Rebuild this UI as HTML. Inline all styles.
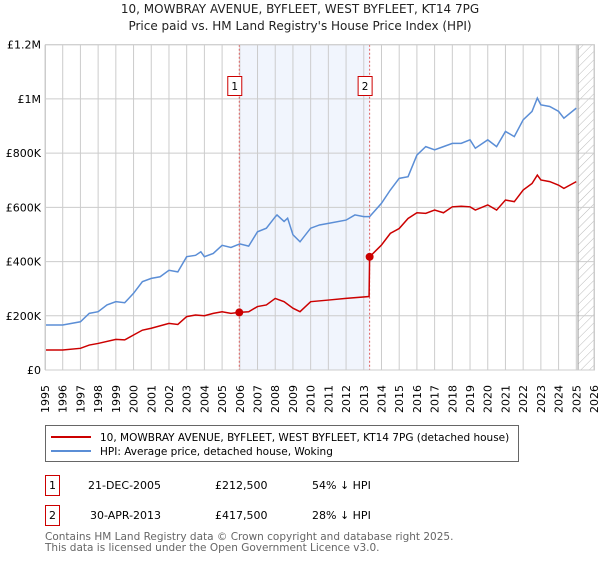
<!DOCTYPE html>
<html><head><meta charset="utf-8"><style>
body{margin:0;background:#fff;font-family:"Liberation Sans","DejaVu Sans",sans-serif;}
svg text{font-family:"DejaVu Sans","Liberation Sans",sans-serif;}
</style></head><body>
<svg id="c" width="600" height="560" viewBox="0 0 600 560" xmlns="http://www.w3.org/2000/svg">
<text x="300" y="13" text-anchor="middle" font-size="12" fill="#222">10, MOWBRAY AVENUE, BYFLEET, WEST BYFLEET, KT14 7PG</text>
<text x="300" y="30" text-anchor="middle" font-size="12" fill="#222">Price paid vs. HM Land Registry's House Price Index (HPI)</text>
<g id="grid"></g><g id="marks"></g><g id="axes"></g>
<g>
<rect x="45.5" y="425.5" width="473" height="36" fill="#fff" stroke="#666"/>
<line x1="51" y1="437" x2="91" y2="437" stroke="#cc0000" stroke-width="2"/>
<text x="100" y="441" font-size="10.5" fill="#000">10, MOWBRAY AVENUE, BYFLEET, WEST BYFLEET, KT14 7PG (detached house)</text>
<line x1="51" y1="451" x2="91" y2="451" stroke="#5b8ed6" stroke-width="2"/>
<text x="100" y="455" font-size="10.5" fill="#000">HPI: Average price, detached house, Woking</text>
</g>
<g font-size="11" fill="#000">
<rect x="45.5" y="475.5" width="14" height="20" fill="none" stroke="#cc0000"/>
<text x="52.5" y="489" text-anchor="middle">1</text>
<text x="88" y="489">21-DEC-2005</text>
<text x="215" y="489">£212,500</text>
<text x="312" y="489">54% ↓ HPI</text>
<rect x="45.5" y="505.5" width="14" height="20" fill="none" stroke="#cc0000"/>
<text x="52.5" y="519" text-anchor="middle">2</text>
<text x="90" y="519">30-APR-2013</text>
<text x="215" y="519">£417,500</text>
<text x="312" y="519">28% ↓ HPI</text>
</g>
<text x="45" y="540" font-size="10.5" fill="#666">Contains HM Land Registry data © Crown copyright and database right 2025.</text>
<text x="45" y="551" font-size="10.5" fill="#666">This data is licensed under the Open Government Licence v3.0.</text>
</svg>
<script>
const years=[1995,1996,1997,1998,1999,2000,2001,2002,2003,2004,2005,2006,2007,2008,2009,2010,2011,2012,2013,2014,2015,2016,2017,2018,2019,2020,2021,2022,2023,2024,2025,2026];
const yTicks=[0,200000,400000,600000,800000,1000000,1200000];
const yTickLabels=["£0","£200K","£400K","£600K","£800K","£1M","£1.2M"];
const hpiT=[1995,1996,1997,1997.5,1998,1998.5,1999,1999.5,2000,2000.5,2001,2001.5,2002,2002.5,2003,2003.5,2003.8,2004,2004.5,2005,2005.5,2006,2006.5,2007,2007.5,2008,2008.1,2008.5,2008.7,2009,2009.4,2010,2010.5,2011,2012,2012.5,2013,2013.33,2014,2014.5,2015,2015.5,2016,2016.5,2017,2017.5,2018,2018.5,2019,2019.3,2020,2020.5,2021,2021.5,2022,2022.5,2022.8,2023,2023.5,2024,2024.3,2025];
const hpiV=[166,166,178,209,215,240,252,248,283,326,338,344,368,362,418,423,436,418,430,460,452,465,457,510,523,565,572,548,560,499,473,523,535,541,553,572,566,566,615,664,707,713,793,824,812,824,836,836,849,818,849,824,880,861,923,954,1003,978,972,954,929,966];
const redT=[1995,1996,1997,1997.5,1998,1999,1999.5,2000,2000.5,2001,2002,2002.5,2003,2003.5,2004,2004.5,2005,2005.5,2005.97,2006.5,2007,2007.5,2008,2008.5,2009,2009.4,2010,2011,2012,2013.3,2013.33,2014,2014.5,2015,2015.5,2016,2016.5,2017,2017.5,2018,2018.5,2019,2019.3,2020,2020.5,2021,2021.5,2022,2022.5,2022.8,2023,2023.5,2024,2024.3,2025];
const redV=[74,74,80,92,98,113,111,129,147,154,172,168,197,203,200,209,215,209,212.5,215,234,240,264,252,228,215,252,258,264,271,417.5,461,504,522,559,580,578,590,580,602,604,602,590,609,590,627,621,664,688,719,701,695,682,670,695];
const saleT=[2005.97,2013.33];
const saleV=[212.5,417.5];
const saleLabels=["1","2"];
const NS="http://www.w3.org/2000/svg";
const L=45,R=594,T=44.7,B=370;
const x=t=>L+(t-1995)*(R-L)/31;
const y=v=>B-v*(B-T)/1200000;
const yk=v=>y(v*1000);
function mk(tag,attrs,parent){const e=document.createElementNS(NS,tag);for(const k in attrs)e.setAttribute(k,attrs[k]);parent.appendChild(e);return e;}
const grid=document.getElementById('grid'),marks=document.getElementById('marks'),axes=document.getElementById('axes');
// shading and hatch
let sh=mk('rect',{x:x(saleT[0]),y:T,width:x(saleT[1])-x(saleT[0]),height:B-T,fill:'#eef3fc',opacity:0.8},grid);


const defs=mk('defs',{},grid);
const pat=mk('pattern',{id:'h',width:6,height:6,patternUnits:'userSpaceOnUse',patternTransform:'rotate(45)'},defs);
mk('line',{x1:0,y1:0,x2:0,y2:6,stroke:'#bbb','stroke-width':1},pat);
let hz=mk('rect',{x:x(2025.1),y:T,width:R-x(2025.1),height:B-T,fill:'url(#h)'},grid);


years.forEach(t=>{let g=mk('line',{x1:x(t),x2:x(t),y1:T,y2:B,stroke:'#ccc','stroke-width':1},grid);


let lb=mk('text',{transform:`translate(${x(t)+4},${B+43}) rotate(-90)`,'font-size':11,fill:'#000'},axes);lb.textContent=t;

});
yTicks.forEach((v,i)=>{let g=mk('line',{x1:L,x2:R,y1:y(v),y2:y(v),stroke:'#ccc','stroke-width':1},grid);


let lb=mk('text',{x:L-4,y:y(v)+4,'text-anchor':'end','font-size':11,fill:'#000'},axes);lb.textContent=yTickLabels[i];

});
let vl=mk('line',{x1:x(2025.1),x2:x(2025.1),y1:T,y2:B,stroke:'#999','stroke-width':1},grid);


saleT.forEach((t,i)=>{let d=mk('line',{x1:x(t),x2:x(t),y1:T,y2:B,stroke:'#e06060','stroke-width':1,'stroke-dasharray':'2,2'},marks);


let bx=mk('rect',{x:x(t)-11.5,y:76.5,width:14,height:19,fill:'#fff',stroke:'#cc0000'},marks);


let tx=mk('text',{x:x(t)-4.5,y:90,'text-anchor':'middle','font-size':10.5,fill:'#000'},marks);tx.textContent=saleLabels[i];

});
let hp=mk('polyline',{points:hpiT.map((t,i)=>x(t)+','+yk(hpiV[i])).join(' '),fill:'none',stroke:'#5b8ed6','stroke-width':1.5},marks);


let rl=mk('polyline',{points:redT.map((t,i)=>x(t)+','+yk(redV[i])).join(' '),fill:'none',stroke:'#cc0000','stroke-width':1.5},marks);


saleT.forEach((t,i)=>{let c=mk('circle',{cx:x(t),cy:yk(saleV[i]),r:4,fill:'#cc0000'},marks);

});
let fr=mk('rect',{x:L+0.5,y:T,width:R-L,height:B-T,fill:'none',stroke:'#ccc'},axes);


</script>
</body></html>
